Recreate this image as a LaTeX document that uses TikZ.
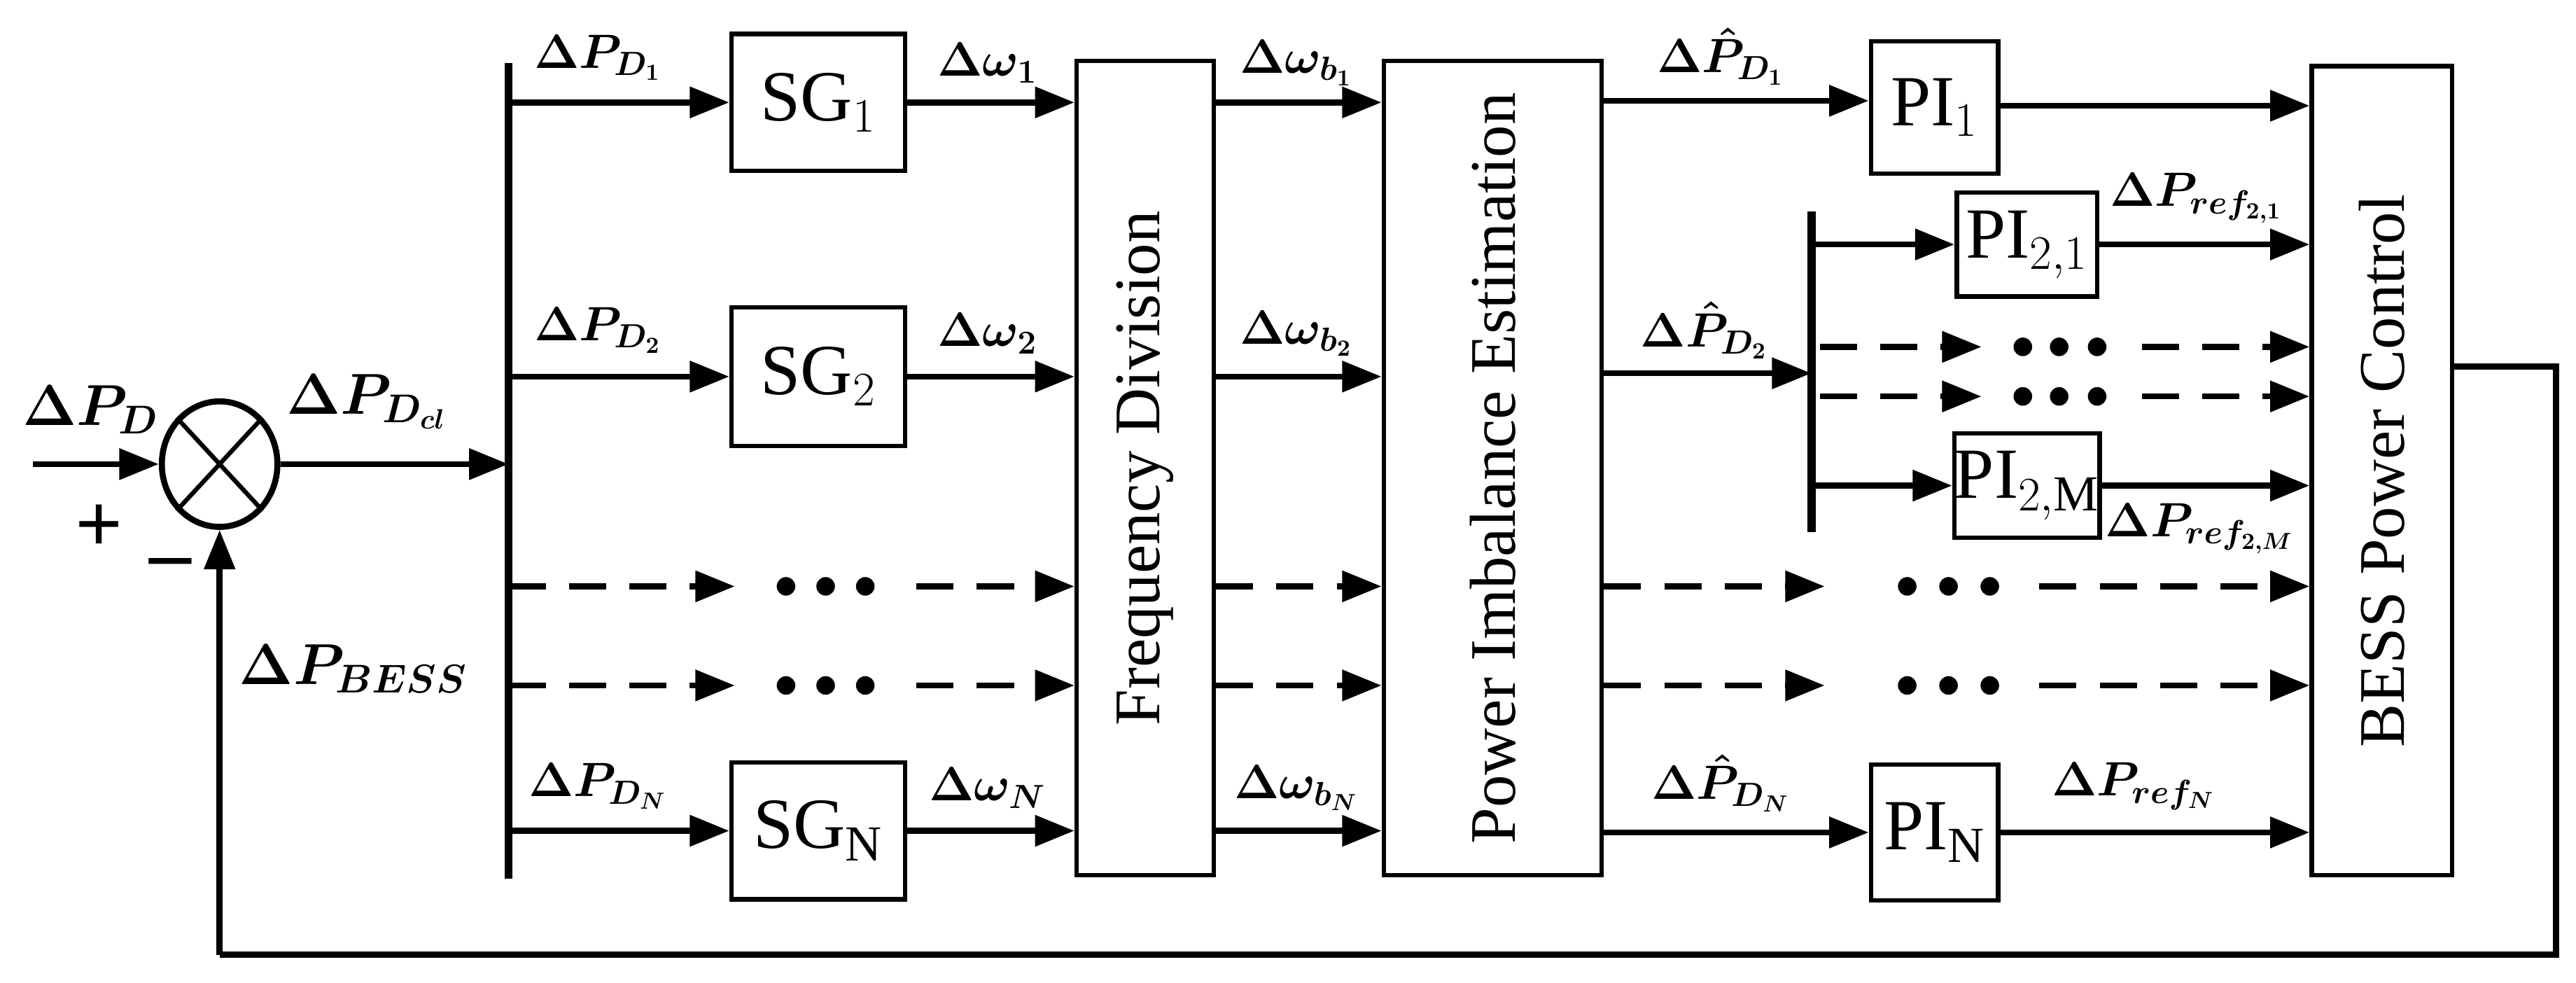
\documentclass[tikz,border=0pt]{standalone}
\usepackage{fontspec}
\setmainfont{Liberation Serif}
\usetikzlibrary{arrows.meta,shapes.geometric}
\newcommand\pxu{0.025cm}
\begin{document}
\begin{tikzpicture}[x=0.025cm,y=-0.025cm,
  ln/.style={line width=2.6pt},
  ar/.style={ln,-{Triangle[length=17pt,width=13pt]}},
  da/.style={ar,dash pattern=on 16pt off 10pt},
  box/.style={draw,line width=1.9pt,inner sep=0pt,font=\fontsize{31}{36}\selectfont},
  rot/.style={box,font=\fontsize{28}{32}\selectfont},
  lb/.style={font=\fontsize{20}{24}\selectfont\boldmath},
  dot/.style={circle,fill,inner sep=0pt,minimum size=8pt}]
\useasboundingbox (0,0) rectangle (1560,595);
% sum
\node[draw,line width=2.6pt,ellipse,minimum width={70*\pxu},minimum height={76*\pxu},inner sep=0pt] (sum) at (133,281) {};
\draw[line width=1.9pt] (sum.north west)--(sum.south east) (sum.north east)--(sum.south west);
\coordinate (in) at (20,281);
\draw[ar] (in)--(sum.west);
\node[lb,font=\fontsize{24}{28}\selectfont\boldmath] at (55,248) {$\Delta P_D$};
\node[font=\fontsize{36}{40}\selectfont\bfseries] at (60,320) {+};
\node[font=\fontsize{36}{40}\selectfont\bfseries] at (103,345) {--};
% bus1
\coordinate (b1t) at (308,38); \coordinate (b1b) at (308,532);
\draw[line width=3.5pt] (b1t)--(b1b);
\coordinate (b1m) at (308,281);
\draw[ar] (sum.east)--(b1m);
\node[lb,font=\fontsize{24}{28}\selectfont\boldmath] at (222,243) {$\Delta P_{D_{cl}}$};
% SG boxes
\node[box,minimum width={105*\pxu},minimum height={83*\pxu}] (sg1) at (495.5,62) {SG$_1$};
\node[box,minimum width={105*\pxu},minimum height={84*\pxu}] (sg2) at (495.5,228) {SG$_2$};
\node[box,minimum width={105*\pxu},minimum height={83*\pxu}] (sgn) at (495.5,503) {SG$_{\mathrm{N}}$};
\node[rot,minimum width={83*\pxu},minimum height={493*\pxu}] (fd) at (693.5,283.5) {\rotatebox{90}{Frequency Division}};
\node[rot,minimum width={132*\pxu},minimum height={493*\pxu}] (pie) at (904,283.5) {\rotatebox{90}{Power Imbalance Estimation}};
\node[rot,minimum width={85*\pxu},minimum height={490*\pxu}] (bess) at (1442.5,285) {\rotatebox{90}{BESS Power Control}};
\foreach \s/\y in {sg1/62,sg2/228,sgn/503}{
  \coordinate (l\s) at (308,\y);
  \draw[ar] (l\s)--(\s.west);
  \draw[ar] (\s.east)--(fd.west |- \s.east);
  \draw[ar] (fd.east |- \s.east)--(pie.west |- \s.east);
}
\node[lb] at (362,35) {$\Delta P_{D_1}$};
\node[lb] at (362,200) {$\Delta P_{D_2}$};
\node[lb] at (362,476) {$\Delta P_{D_N}$};
\node[lb] at (598,38) {$\Delta\omega_1$};
\node[lb] at (598,202) {$\Delta\omega_2$};
\node[lb] at (598,477) {$\Delta\omega_N$};
\node[lb] at (785,38) {$\Delta\omega_{b_1}$};
\node[lb] at (785,202) {$\Delta\omega_{b_2}$};
\node[lb] at (785,477) {$\Delta\omega_{b_N}$};
% dashed rows left
\foreach \y in {355,415}{
  \coordinate (dl\y) at (308,\y); \coordinate (de\y) at (445,\y);
  \draw[da] (dl\y)--(de\y);
  \node[dot] at (476,\y){}; \node[dot] at (500,\y){}; \node[dot] at (524,\y){};
  \coordinate (ds\y) at (555,\y);
  \draw[da] (ds\y)--(fd.west |- ds\y);
  \draw[da] (fd.east |- ds\y)--(pie.west |- ds\y);
  \coordinate (dr\y) at (1105,\y);
  \draw[da] (pie.east |- ds\y)--(dr\y);
  \node[dot] at (1155,\y){}; \node[dot] at (1180,\y){}; \node[dot] at (1205,\y){};
  \coordinate (dq\y) at (1235,\y);
  \draw[da] (dq\y)--(bess.west |- dq\y);
}
% PI boxes
\node[box,minimum width={77*\pxu},minimum height={80*\pxu}] (pi1) at (1171.5,65) {PI$_1$};
\node[box,minimum width={77*\pxu},minimum height={82*\pxu}] (pin) at (1171.5,504) {PI$_{\mathrm{N}}$};
\node[box,minimum width={85*\pxu},minimum height={63*\pxu}] (pi21) at (1227.5,148) {PI$_{2,1}$};
\node[box,minimum width={85*\pxu},minimum height={63*\pxu}] (pi2m) at (1227.5,294) {PI$_{2,\mathrm{M}}$};
\draw[ar] (pie.east |- 0,61)--(pi1.west |- 0,61);
\draw[ar] (pi1.east |- 0,64)--(bess.west |- 0,64);
\draw[ar] (pie.east |- pin.west)--(pin.west);
\draw[ar] (pin.east)--(bess.west |- pin.east);
\node[lb] at (1042,34) {$\Delta\hat P_{D_1}$};
\node[lb] at (1032,200) {$\Delta\hat P_{D_2}$};
\node[lb] at (1042,474) {$\Delta\hat P_{D_N}$};
\node[lb] at (1292,476) {$\Delta P_{ref_N}$};
% bus2
\coordinate (b2t) at (1097,128); \coordinate (b2b) at (1097,322);
\draw[line width=3.5pt] (b2t)--(b2b);
\coordinate (b2m) at (1097,226);
\draw[ar] (pie.east |- b2m)--(b2m);
\draw[ar] (b2t |- pi21.west)--(pi21.west);
\draw[ar] (b2t |- pi2m.west)--(pi2m.west);
\draw[ar] (pi21.east)--(bess.west |- pi21.east);
\draw[ar] (pi2m.east)--(bess.west |- pi2m.east);
\node[lb] at (1330,120) {$\Delta P_{ref_{2,1}}$};
\node[lb] at (1332,320) {$\Delta P_{ref_{2,M}}$};
\foreach \y in {210,240}{
  \coordinate (e\y) at (1102,\y); \coordinate (f\y) at (1200,\y);
  \draw[da] (e\y)--(f\y);
  \node[dot] at (1225,\y){}; \node[dot] at (1247,\y){}; \node[dot] at (1270,\y){};
  \coordinate (g\y) at (1297,\y);
  \draw[da] (g\y)--(bess.west |- g\y);
}
% feedback
\coordinate (fb1) at (1548,222); \coordinate (fb2) at (1548,578); \coordinate (fb3) at (133,578);
\draw[ln] (bess.east |- fb1)--(fb1)--(fb2)--(fb3);
\draw[ar] (fb3)--(sum.south);
\node[lb,anchor=west,font=\fontsize{24}{28}\selectfont\boldmath] at (140,405) {$\Delta P_{BESS}$};
\end{tikzpicture}
\end{document}
